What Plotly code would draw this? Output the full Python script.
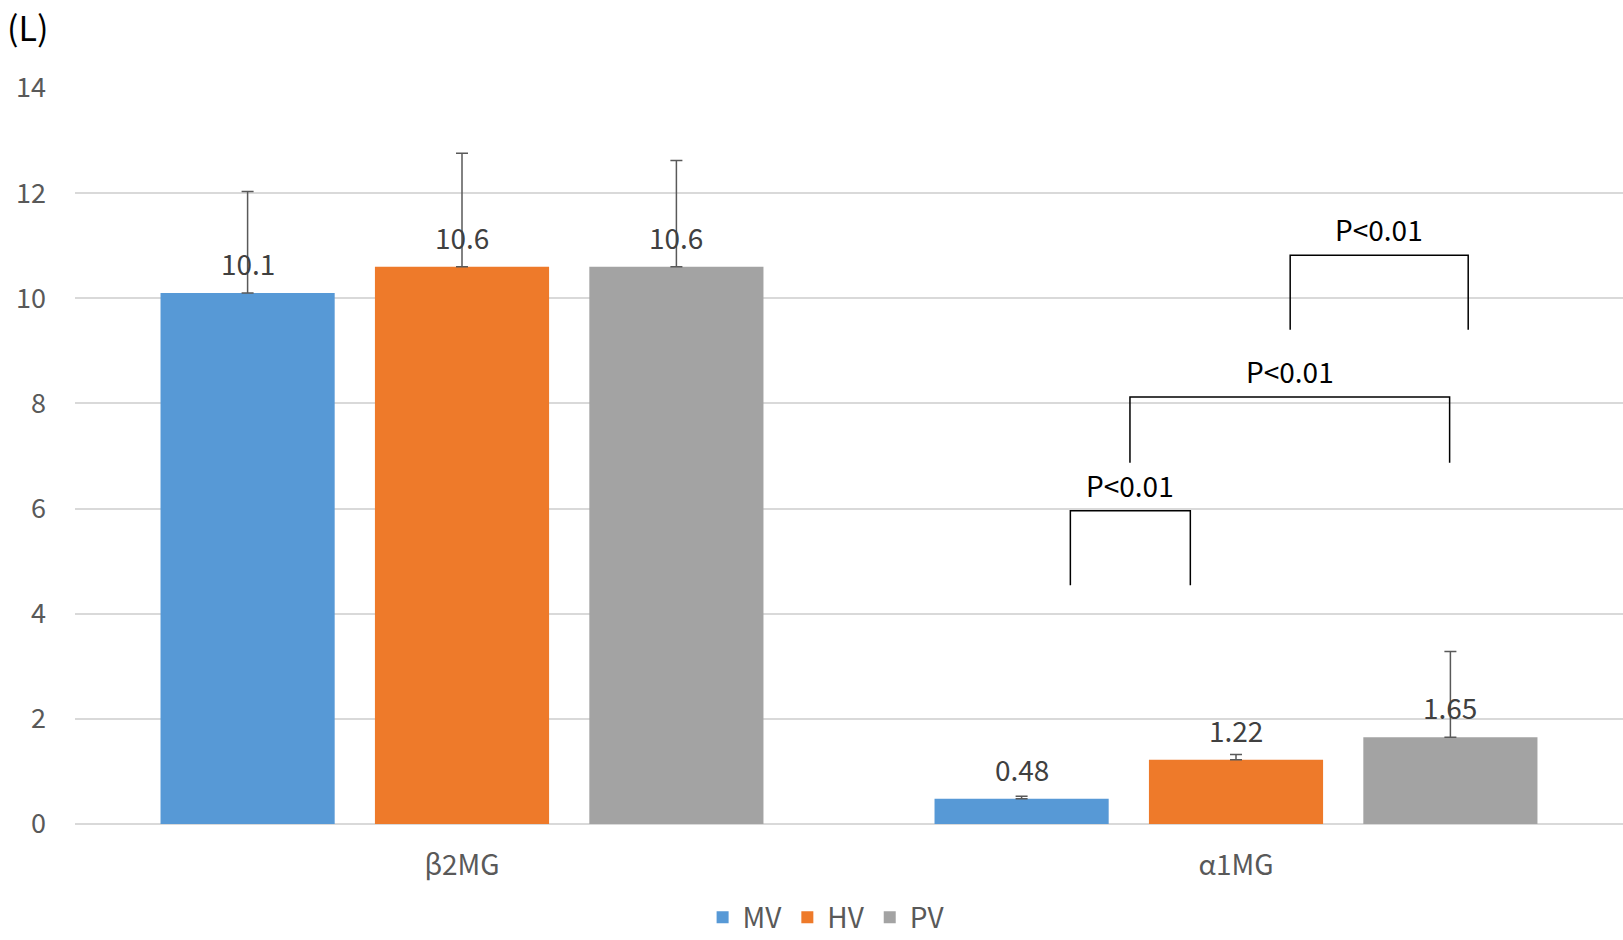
import plotly.graph_objects as go

categories = ["β2MG", "α1MG"]
series = ["MV", "HV", "PV"]
values = {"MV": [10.1, 0.48], "HV": [10.6, 1.22], "PV": [10.6, 1.65]}
errors = {"MV": [1.93, 0.05], "HV": [2.16, 0.1], "PV": [2.02, 1.63]}
labels = {"MV": ["10.1", "0.48"], "HV": ["10.6", "1.22"], "PV": ["10.6", "1.65"]}
colors = {"MV": "#5799D6", "HV": "#EE7A2A", "PV": "#A3A3A3"}
y_ticks = [0, 2, 4, 6, 8, 10, 12, 14]

# significance brackets: (x_left, x_right, y_top, y_bottom, label)
brackets = [
    (0.786, 0.941, 5.96, 4.54, "P<0.01"),
    (0.863, 1.276, 8.12, 6.87, "P<0.01"),
    (1.070, 1.300, 10.82, 9.40, "P<0.01"),
]

step = 0.277
bar_w = 0.225
font_family = "Noto Sans CJK JP, Noto Sans, sans-serif"

fig = go.Figure()
annotations = []
for i, s in enumerate(series):
    xs = [c + (i - 1) * step for c in range(len(categories))]
    fig.add_trace(go.Bar(
        x=xs, y=values[s], width=bar_w, name=s,
        marker=dict(color=colors[s], line=dict(width=0)),
        error_y=dict(type="data", array=errors[s], symmetric=False,
                     color="#595959", thickness=1.5, width=6),
    ))
    for x, v, t in zip(xs, values[s], labels[s]):
        annotations.append(dict(x=x, y=v, text=t, showarrow=False,
                                yanchor="middle", yshift=30,
                                font=dict(size=28, color="#404040", family=font_family)))

shapes = []
for x0, x1, yt, yb, t in brackets:
    shapes.append(dict(type="path", xref="x", yref="y",
                       path=f"M {x0} {yb} L {x0} {yt} L {x1} {yt} L {x1} {yb}",
                       line=dict(color="black", width=1.5)))
    annotations.append(dict(x=(x0 + x1) / 2, y=yt, text=t, showarrow=False,
                            yanchor="middle", yshift=26,
                            font=dict(size=28, color="black", family=font_family)))

annotations.append(dict(xref="paper", yref="paper", x=-0.045, y=1.084, text="(L)",
                        showarrow=False, xanchor="left", yanchor="middle",
                        font=dict(size=34, color="black", family=font_family)))

fig.update_layout(
    width=1623, height=940,
    margin=dict(l=75, r=0, t=88, b=116),
    paper_bgcolor="white", plot_bgcolor="white",
    barmode="overlay",
    showlegend=True,
    legend=dict(orientation="h", xref="container", yref="container",
                x=0.509, y=0.024, xanchor="center", yanchor="middle",
                font=dict(size=28, color="#595959", family=font_family),
                itemwidth=30, traceorder="normal"),
    xaxis=dict(range=[-0.5, 1.5], tickvals=[0, 1], ticktext=categories,
               showgrid=False, zeroline=False, showline=False,
               ticks="", ticklabelstandoff=22,
               tickfont=dict(size=28, color="#595959", family=font_family)),
    yaxis=dict(range=[0, 14], tickvals=y_ticks, showgrid=True,
               gridcolor="#D9D9D9", gridwidth=1.5, zeroline=True,
               zerolinecolor="#D9D9D9", zerolinewidth=1.5, showline=False,
               ticks="", ticklabelstandoff=28,
               tickfont=dict(size=27, color="#595959", family=font_family)),
    annotations=annotations,
    shapes=shapes,
)

fig.write_html("out.html", config={"displayModeBar": False},
               post_script="document.body.style.margin='0';")
